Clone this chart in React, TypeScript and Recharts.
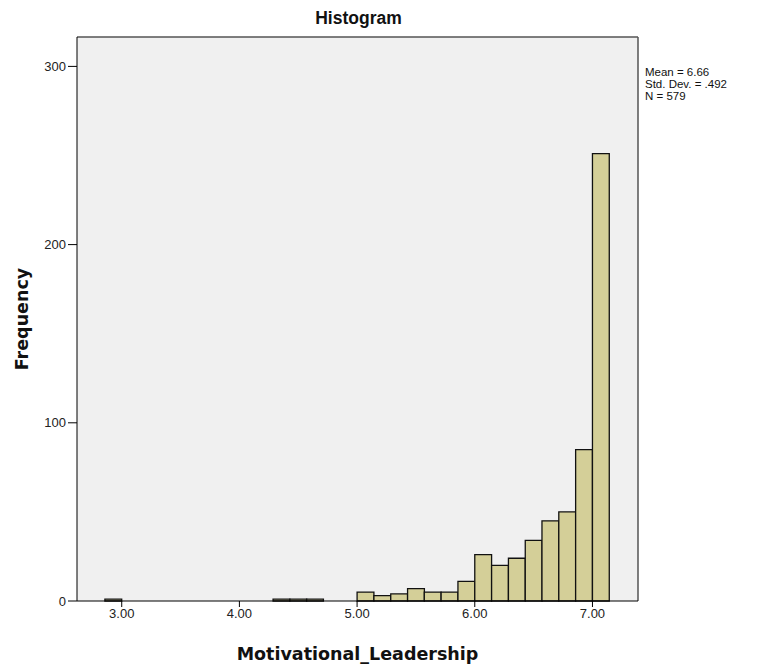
import React from 'react';
import { ComposedChart, XAxis, YAxis, ReferenceArea, ReferenceLine, CartesianGrid, Scatter } from 'recharts';

// Histogram bins (left edge of each bin, width 1/7)
const binStarts = [2.857, 4.286, 4.429, 4.571, 5.0, 5.143, 5.286, 5.429, 5.571, 5.714, 5.857, 6.0, 6.143, 6.286, 6.429, 6.571, 6.714, 6.857, 7.0];
const counts = [1, 1, 1, 1, 5, 3, 4, 7, 5, 5, 11, 26, 20, 24, 34, 45, 50, 85, 251];
const binWidth = 0.1429;

const xTicks = [3, 4, 5, 6, 7];
const yTicks = [0, 100, 200, 300];
const statsLines = ['Mean = 6.66', 'Std. Dev. = .492', 'N = 579'];

const X_DOMAIN: [number, number] = [2.62, 7.387];
const Y_DOMAIN: [number, number] = [0, 316.5];

const data = binStarts.map((s, i) => ({ x: s + binWidth / 2, count: counts[i] }));

const FONT = '"Liberation Sans", Arial, sans-serif';
const LABEL_FONT = '"DejaVu Sans", Verdana, sans-serif';

export default function App() {
  return (
    <div style={{ position: 'absolute', left: 0, top: 0, width: 757, height: 668, background: '#ffffff' }}>
      <div style={{ position: 'absolute', left: 0, top: 8, width: 717, textAlign: 'center', fontFamily: FONT, fontWeight: 'bold', fontSize: 17.5, color: '#111' }}>
        Histogram
      </div>
      <div style={{ position: 'absolute', left: 645, top: 66, fontFamily: FONT, fontSize: 11.5, lineHeight: '12px', color: '#111' }}>
        {statsLines.map((l) => (
          <div key={l} style={{ height: 12, whiteSpace: 'nowrap' }}>{l}</div>
        ))}
      </div>
      <ComposedChart width={757} height={668} data={data} margin={{ top: 37, right: 119, bottom: 0, left: 0 }}>
        <CartesianGrid horizontal={false} vertical={false} fill="#f0f0f0" />
        <XAxis
          dataKey="x"
          type="number"
          domain={X_DOMAIN}
          ticks={xTicks}
          allowDataOverflow
          height={67}
          tickFormatter={(v: number) => v.toFixed(2)}
          tick={{ fill: '#222', fontSize: 13, fontFamily: FONT }}
          tickSize={6}
          axisLine={{ stroke: '#000', strokeWidth: 1 }}
          tickLine={{ stroke: '#000' }}
          label={{
            value: 'Motivational_Leadership',
            position: 'insideBottom',
            offset: 8,
            style: { fontFamily: LABEL_FONT, fontWeight: 'bold', fontSize: 17.5, fill: '#111' },
          }}
        />
        <YAxis
          type="number"
          domain={Y_DOMAIN}
          ticks={yTicks}
          allowDataOverflow
          width={77}
          tick={{ fill: '#222', fontSize: 13, fontFamily: FONT }}
          tickSize={9}
          axisLine={{ stroke: '#000', strokeWidth: 1 }}
          tickLine={{ stroke: '#000' }}
          label={{
            value: 'Frequency',
            angle: -90,
            position: 'insideLeft',
            offset: 22,
            style: { textAnchor: 'middle', fontFamily: LABEL_FONT, fontWeight: 'bold', fontSize: 17.5, fill: '#111' },
          }}
        />
        <ReferenceLine y={Y_DOMAIN[1]} stroke="#555" strokeWidth={1.5} ifOverflow="extendDomain" />
        <ReferenceLine x={X_DOMAIN[1]} stroke="#555" strokeWidth={1.5} ifOverflow="extendDomain" />
        {binStarts.map((s, i) => (
          <ReferenceArea
            key={s}
            x1={s}
            x2={s + binWidth}
            y1={0}
            y2={counts[i]}
            fill="#d4cf98"
            fillOpacity={1}
            stroke="#111"
            strokeWidth={1.3}
            ifOverflow="visible"
          />
        ))}
        <Scatter dataKey="count" isAnimationActive={false} shape={() => null} />
      </ComposedChart>
    </div>
  );
}
